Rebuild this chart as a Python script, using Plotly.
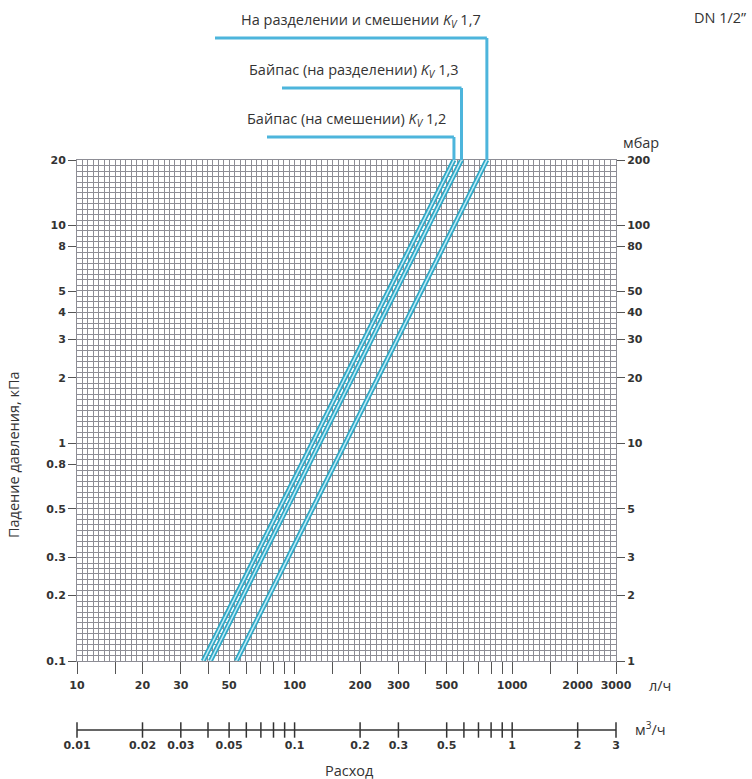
import numpy as np
import plotly.graph_objects as go

# ---------------- data ----------------
series_names = ["На разделении и смешении", "Байпас (на разделении)", "Байпас (на смешении)"]
kv_labels = ["1,7", "1,3", "1,2"]
pressure_kpa = [0.1, 20]                  # kPa, start / end of each line
pressure_mbar = [1, 200]                  # same range in mbar (right axis)
flow_kv17 = [54, 765]                     # l/h
flow_kv13 = [41, 585]
flow_kv12 = [38, 540]
flows = [flow_kv17, flow_kv13, flow_kv12]

x_tick_marks = [10, 15, 20, 30, 40, 50, 60, 70, 80, 90, 100, 150, 200, 300, 400, 500,
                600, 700, 800, 900, 1000, 1500, 2000, 3000]
x_labels = [10, 20, 30, 50, 100, 200, 300, 500, 1000, 2000, 3000]
y_ticks_kpa = [0.1, 0.2, 0.3, 0.5, 0.8, 1, 2, 3, 4, 5, 8, 10, 20]
y_tick_labels_kpa = ["0.1", "0.2", "0.3", "0.5", "0.8", "1", "2", "3", "4", "5", "8", "10", "20"]
y_ticks_mbar = [1, 2, 3, 5, 10, 20, 30, 40, 50, 80, 100, 200]
m3h_ticks = [0.01, 0.02, 0.03, 0.04, 0.05, 0.06, 0.07, 0.08, 0.09, 0.1, 0.2, 0.3,
             0.5, 0.6, 0.7, 0.8, 0.9, 1, 2, 3]
m3h_labels = [0.01, 0.02, 0.03, 0.05, 0.1, 0.2, 0.3, 0.5, 1, 2, 3]
m3h_label_text = ["0.01", "0.02", "0.03", "0.05", "0.1", "0.2", "0.3", "0.5", "1", "2", "3"]

# ---------------- layout geometry ----------------
W, H = 752, 779
ML, MR, MT, MB = 77, 136, 160, 40
PH = H - MT - MB
PW = W - ML - MR
XR = [1, np.log10(3000)]
YR = [-1, np.log10(20)]


def px(p):
    return (p - ML) / PW


def py(p):
    return (H - MB - p) / PH


def xdata(p):
    return 10 ** (XR[0] + (p - ML) / PW * (XR[1] - XR[0]))


grid_x = [10 ** (k / 40) for k in range(40, 140)]
grid_y = [10 ** (k / 40) for k in range(-40, 53)]

CYAN = "#2ea8c6"
CYAN_LIGHT = "#c4ecf7"
LEADER = "#4db5dc"
GRID = "#8d8d95"
TXT = "#333333"
tickfont = dict(family="DejaVu Sans", size=11, color="#333333", weight="bold")
labfont = dict(family="Open Sans", size=14.5, color=TXT)

fig = go.Figure()

for fl in flows:
    fig.add_trace(go.Scatter(x=fl, y=pressure_kpa, mode="lines",
                             line=dict(color=CYAN, width=5), hoverinfo="skip",
                             showlegend=False, xaxis="x", yaxis="y"))
    fig.add_trace(go.Scatter(x=fl, y=pressure_kpa, mode="lines",
                             line=dict(color=CYAN_LIGHT, width=1.5), hoverinfo="skip",
                             showlegend=False, xaxis="x", yaxis="y"))

# invisible traces so the overlay axes are drawn
fig.add_trace(go.Scatter(x=flow_kv17, y=pressure_mbar, mode="markers",
                         marker=dict(size=1, opacity=0), hoverinfo="skip",
                         showlegend=False, xaxis="x", yaxis="y2"))
fig.add_trace(go.Scatter(x=flow_kv17, y=pressure_kpa, mode="markers",
                         marker=dict(size=1, opacity=0), hoverinfo="skip",
                         showlegend=False, xaxis="x3", yaxis="y"))

# m3/h scale
fig.add_trace(go.Scatter(x=m3h_ticks, y=[0] * len(m3h_ticks), mode="lines+markers",
                         line=dict(color="#333333", width=1.5),
                         marker=dict(symbol="line-ns", size=11,
                                     line=dict(color="#333333", width=1.5)),
                         cliponaxis=False, hoverinfo="skip", showlegend=False,
                         xaxis="x2", yaxis="y3"))

main_dom_y = [py(661), 1]

fig.update_layout(
    width=W, height=H,
    margin=dict(l=ML, r=MR, t=MT, b=MB),
    paper_bgcolor="white", plot_bgcolor="white",
    showlegend=False,
    xaxis=dict(type="log", range=XR, domain=[0, 1], anchor="y",
               tickmode="array", tickvals=x_labels,
               ticktext=[str(v) for v in x_labels],
               ticks="", ticklabelstandoff=14,
               tickfont=tickfont, showgrid=False, zeroline=False,
               showline=True, linecolor=GRID, linewidth=1, mirror=True,
               minor=dict(tickmode="array", tickvals=grid_x, showgrid=True,
                          gridcolor=GRID, gridwidth=1, ticks="")),
    xaxis3=dict(type="log", range=XR, overlaying="x", anchor="y", side="bottom",
                tickmode="array", tickvals=x_tick_marks, showticklabels=False,
                ticks="outside", ticklen=12, tickwidth=1, tickcolor="#555555",
                showgrid=False, zeroline=False, showline=False),
    yaxis=dict(type="log", range=YR, domain=main_dom_y, anchor="x",
               tickmode="array", tickvals=y_ticks_kpa, ticktext=y_tick_labels_kpa,
               ticks="outside", ticklen=8, tickwidth=1, tickcolor="#555555",
               tickfont=tickfont, showgrid=False, zeroline=False,
               showline=True, linecolor=GRID, linewidth=1, mirror=True,
               minor=dict(tickmode="array", tickvals=grid_y, showgrid=True,
                          gridcolor=GRID, gridwidth=1, ticks="")),
    yaxis2=dict(type="log", range=[0, np.log10(200)], overlaying="y", side="right",
                anchor="x", tickmode="array", tickvals=y_ticks_mbar,
                ticktext=[str(v) for v in y_ticks_mbar],
                ticks="outside", ticklen=8, tickwidth=1, tickcolor="#555555",
                tickfont=tickfont, showgrid=False, zeroline=False, showline=False),
    xaxis2=dict(type="log", range=[-2, np.log10(3)], domain=[0, 1], anchor="y3",
                tickmode="array", tickvals=m3h_labels, ticktext=m3h_label_text,
                ticks="", tickfont=tickfont, showgrid=False, zeroline=False,
                showline=False, ticklabelstandoff=2),
    yaxis3=dict(range=[-1, 1], domain=[py(735), py(725)], anchor="x2",
                showticklabels=False, showgrid=False, zeroline=False,
                showline=False, ticks=""),
)

annotations = []
shapes = []
label_right_px = [483, 461, 448]
label_y_px = [20, 71, 120]
leader_y_px = [38, 88, 137]
leader_x0_px = [215, 282, 267]
for i in range(3):
    txt = f"{series_names[i]} <i>K<sub>V</sub></i> {kv_labels[i]}"
    annotations.append(dict(text=txt, xref="paper", yref="paper",
                            x=px(label_right_px[i]), y=py(label_y_px[i]),
                            xanchor="right", yanchor="middle", showarrow=False,
                            font=labfont))
    end_flow = flows[i][1]
    shapes.append(dict(type="line", xref="x", yref="paper",
                       x0=xdata(leader_x0_px[i]), x1=end_flow,
                       y0=py(leader_y_px[i]), y1=py(leader_y_px[i]),
                       line=dict(color=LEADER, width=3)))
    shapes.append(dict(type="line", xref="x", yref="paper",
                       x0=end_flow, x1=end_flow,
                       y0=py(leader_y_px[i]), y1=1,
                       line=dict(color=LEADER, width=3)))

annotations += [
    dict(text="DN 1/2”", xref="paper", yref="paper", x=px(748), y=py(18),
         xanchor="right", yanchor="middle", showarrow=False, font=labfont),
    dict(text="мбар", xref="paper", yref="paper", x=px(621), y=py(143),
         xanchor="left", yanchor="middle", showarrow=False, font=labfont),
    dict(text="л/ч", xref="paper", yref="paper", x=px(647), y=py(685),
         xanchor="left", yanchor="middle", showarrow=False, font=labfont),
    dict(text="м<sup>3</sup>/ч", xref="paper", yref="paper", x=px(633), y=py(728),
         xanchor="left", yanchor="middle", showarrow=False, font=labfont),
    dict(text="Расход", xref="paper", yref="paper", x=px(349), y=py(770),
         xanchor="center", yanchor="middle", showarrow=False, font=labfont),
    dict(text="Падение давления, кПа", xref="paper", yref="paper", x=px(13), y=py(455),
         xanchor="center", yanchor="middle", textangle=-90, showarrow=False,
         font=labfont),
]

fig.update_layout(annotations=annotations, shapes=shapes)
fig.write_html("out.html")
